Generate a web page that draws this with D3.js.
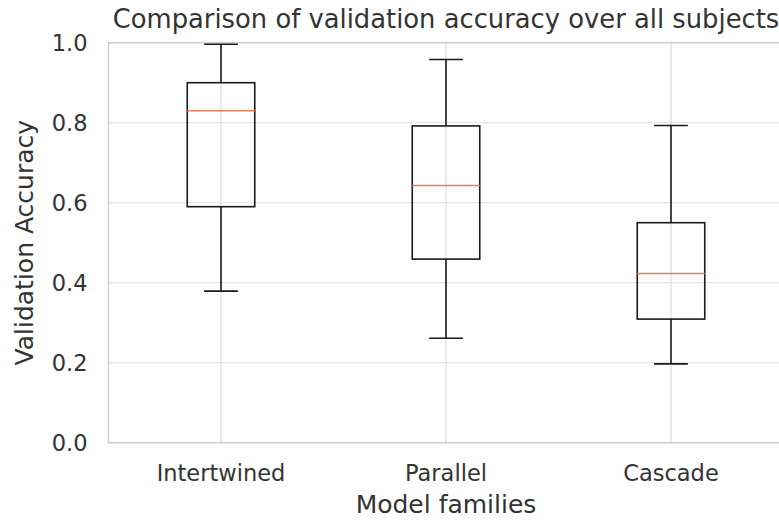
<!DOCTYPE html>
<html>
<head>
<meta charset="utf-8">
<script src="https://cdn.jsdelivr.net/npm/d3@7"></script>
<style>
  body { margin: 0; background: #fff; }
  text { font-family: 'DejaVu Sans', sans-serif; fill: #333; }
</style>
</head>
<body>
<script>
  'use strict'
  // box stats
  const families = ['Intertwined', 'Parallel', 'Cascade']
  const whiskerLow = [0.379, 0.261, 0.197]
  const q1 = [0.590, 0.459, 0.309]
  const medians = [0.830, 0.643, 0.423]
  const q3 = [0.900, 0.792, 0.550]
  const whiskerHigh = [0.996, 0.958, 0.793]
  const yTicks = [0, 0.2, 0.4, 0.6, 0.8, 1.0]

  const W = 779, H = 521
  const margin = {top: 42.7, left: 108.5, bottom: 78.3}
  const plotW = 675 // right side runs past the window, as in the reference
  const plotH = H - margin.top - margin.bottom

  const data = families.map((f, i) => ({
    name: f, lo: whiskerLow[i], q1: q1[i], med: medians[i], q3: q3[i], hi: whiskerHigh[i]
  }))

  const x = d3.scaleLinear().domain([0.5, 3.5]).range([0, plotW])
  const y = d3.scaleLinear().domain([0, 1]).range([plotH, 0])
  const boxW = x(1.3) - x(1)
  const capW = boxW / 2

  const svg = d3.select('body').append('svg')
    .attr('width', W)
    .attr('height', H)
  const g = svg.append('g')
    .attr('transform', `translate(${margin.left}, ${margin.top})`)

  // grid
  g.selectAll('.hgrid').data(yTicks).enter().append('line')
    .attr('x1', 0).attr('x2', plotW)
    .attr('y1', d => y(d)).attr('y2', d => y(d))
    .style('stroke', '#e5e5e5').style('stroke-width', 1.2)
  g.selectAll('.vgrid').data(data).enter().append('line')
    .attr('x1', (d, i) => x(i + 1)).attr('x2', (d, i) => x(i + 1))
    .attr('y1', 0).attr('y2', plotH)
    .style('stroke', '#dcdcdc').style('stroke-width', 1.2)

  // spines
  g.append('rect')
    .attr('x', 0).attr('y', 0).attr('width', plotW).attr('height', plotH)
    .style('fill', 'none').style('stroke', '#cccccc').style('stroke-width', 1.4)

  // boxes
  const boxes = g.selectAll('.box').data(data).enter().append('g')
    .attr('transform', (d, i) => `translate(${x(i + 1)}, 0)`)
  boxes.append('line') // lower whisker
    .attr('x1', 0).attr('x2', 0)
    .attr('y1', d => y(d.q1)).attr('y2', d => y(d.lo))
  boxes.append('line') // upper whisker
    .attr('x1', 0).attr('x2', 0)
    .attr('y1', d => y(d.q3)).attr('y2', d => y(d.hi))
  boxes.append('line')
    .attr('x1', -capW / 2).attr('x2', capW / 2)
    .attr('y1', d => y(d.lo)).attr('y2', d => y(d.lo))
  boxes.append('line')
    .attr('x1', -capW / 2).attr('x2', capW / 2)
    .attr('y1', d => y(d.hi)).attr('y2', d => y(d.hi))
  boxes.append('rect')
    .attr('x', -boxW / 2).attr('width', boxW)
    .attr('y', d => y(d.q3)).attr('height', d => y(d.q1) - y(d.q3))
    .style('fill', 'none')
  boxes.selectAll('line, rect')
    .style('stroke', '#1a1a1a').style('stroke-width', 1.6)
  boxes.append('line')
    .attr('x1', -boxW / 2).attr('x2', boxW / 2)
    .attr('y1', d => y(d.med)).attr('y2', d => y(d.med))
    .style('stroke', '#dd8452').style('stroke-width', 1.6)

  // tick labels
  g.selectAll('.ytick').data(yTicks).enter().append('text')
    .attr('x', -21).attr('y', d => y(d)).attr('dy', '0.36em')
    .attr('text-anchor', 'end')
    .style('font-size', '22.5px')
    .text(d => d.toFixed(1))
  g.selectAll('.xtick').data(data).enter().append('text')
    .attr('x', (d, i) => x(i + 1)).attr('y', plotH + 38.3)
    .attr('text-anchor', 'middle')
    .style('font-size', '22.5px')
    .text(d => d.name)

  // axis labels and title
  g.append('text')
    .attr('x', plotW / 2).attr('y', plotH + 70.6)
    .attr('text-anchor', 'middle')
    .style('font-size', '25px')
    .text('Model families')
  g.append('text')
    .attr('transform', `translate(${-75.2}, ${plotH / 2}) rotate(-90)`)
    .attr('text-anchor', 'middle')
    .style('font-size', '25px')
    .text('Validation Accuracy')
  g.append('text')
    .attr('x', plotW / 2).attr('y', -14.7)
    .attr('text-anchor', 'middle')
    .style('font-size', '25.8px')
    .text('Comparison of validation accuracy over all subjects')
</script>
</body>
</html>
